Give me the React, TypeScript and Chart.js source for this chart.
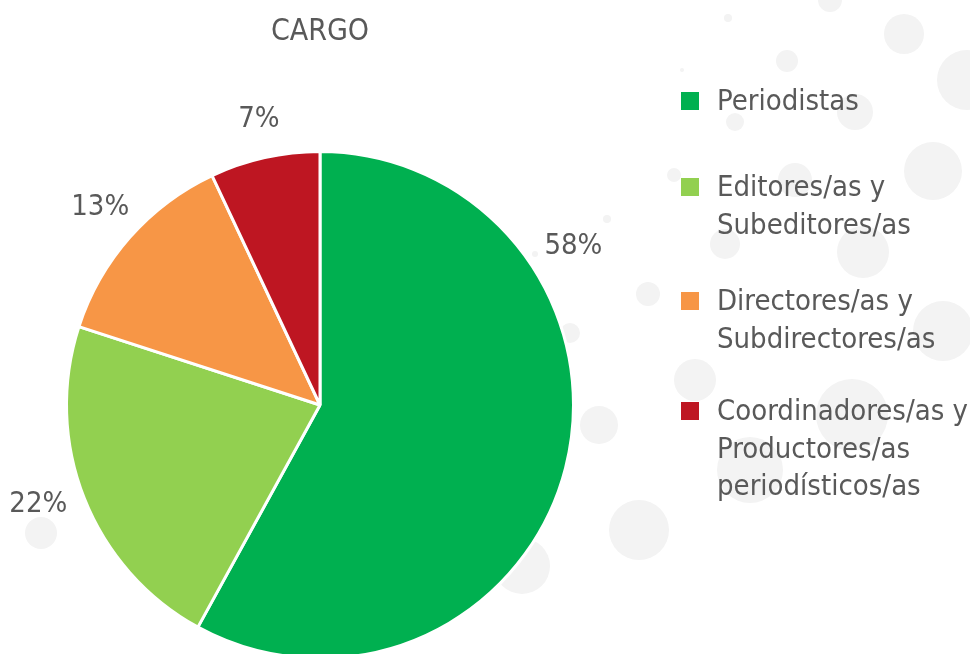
import React, { useEffect, useRef } from "react";
import { Chart, registerables } from "chart.js";

Chart.register(...registerables);

// ---- data ----
const title = "CARGO";
const categories = [
  "Periodistas",
  "Editores/as y\nSubeditores/as",
  "Directores/as y\nSubdirectores/as",
  "Coordinadores/as y\nProductores/as\nperiodísticos/as",
];
const values = [58, 22, 13, 7];
const colors = ["#00B050", "#92D050", "#F79646", "#BE1622"];

// decorative background bubbles [x, y, r]
const bubbles: number[][] = [
  [830, 0, 12], [728, 18, 4], [904, 34, 20], [787, 61, 11], [967, 80, 30],
  [682, 70, 2], [855, 112, 18], [735, 122, 9], [933, 171, 29], [674, 175, 7],
  [795, 180, 17], [607, 219, 4], [725, 244, 15], [863, 252, 26], [535, 254, 3],
  [648, 294, 12], [570, 333, 10], [943, 331, 30], [695, 380, 21], [852, 415, 36],
  [599, 425, 19], [750, 470, 33], [639, 530, 30], [522, 566, 28], [41, 533, 16],
];

const FONT = '"Liberation Sans Narrow", "DejaVu Sans Condensed", "Roboto", sans-serif';
const TEXT = "#595959";

const bubblePlugin = {
  id: "bubbles",
  beforeDraw(chart: any) {
    const ctx = chart.ctx;
    ctx.save();
    ctx.fillStyle = "#f3f3f3";
    for (const [x, y, r] of bubbles) {
      ctx.beginPath();
      ctx.arc(x, y, r, 0, Math.PI * 2);
      ctx.fill();
    }
    ctx.restore();
  },
};

const labelPlugin = {
  id: "pctLabels",
  afterDatasetsDraw(chart: any, _args: any, opts: any) {
    const ctx = chart.ctx;
    const meta = chart.getDatasetMeta(0);
    const offsets: number[] = opts.angleOffsets || [];
    const dists: number[] = opts.distances || [];
    ctx.save();
    ctx.font = `29px ${FONT}`;
    ctx.fillStyle = TEXT;
    ctx.textAlign = "center";
    ctx.textBaseline = "middle";
    meta.data.forEach((arc: any, i: number) => {
      const p = arc.getProps(["startAngle", "endAngle", "x", "y", "outerRadius"], true);
      const mid = (p.startAngle + p.endAngle) / 2 + ((offsets[i] || 0) * Math.PI) / 180;
      const r = p.outerRadius * (dists[i] || 1.16);
      const v = chart.data.datasets[0].data[i];
      ctx.fillText(`${v}%`, p.x + Math.cos(mid) * r, p.y + Math.sin(mid) * r);
    });
    ctx.restore();
  },
};

export default function App() {
  const ref = useRef<HTMLCanvasElement | null>(null);

  useEffect(() => {
    document.body.style.margin = "0";
    document.body.style.overflow = "hidden";
    if (!ref.current) return;
    const chart = new Chart(ref.current, {
      type: "pie",
      data: {
        labels: categories,
        datasets: [
          {
            data: values,
            backgroundColor: colors,
            borderColor: "#ffffff",
            borderWidth: 3,
          },
        ],
      },
      options: {
        responsive: false,
        animation: false,
        layout: { padding: { left: 65, right: 395, top: 150, bottom: 20 } },
        plugins: {
          legend: { display: false },
          tooltip: { enabled: false },
          title: { display: false },
          pctLabels: {
            angleOffsets: [-46.5, 2.2, 0.5, 0.5],
            distances: [1.18, 1.178, 1.165, 1.15],
          },
        } as any,
      },
      plugins: [bubblePlugin, labelPlugin],
    });
    return () => chart.destroy();
  }, []);

  const legendTops = [82, 168, 282, 392];

  return (
    <div
      style={{
        position: "absolute",
        left: 0,
        top: 0,
        width: 970,
        height: 654,
        overflow: "hidden",
        background: "#ffffff",
      }}
    >
      <canvas ref={ref} width={970} height={680} style={{ position: "absolute", left: 0, top: 0 }} />
      <div
        style={{
          position: "absolute",
          left: 220,
          width: 200,
          top: 15,
          textAlign: "center",
          fontFamily: FONT,
          fontSize: 30,
          lineHeight: "30px",
          color: TEXT,
        }}
      >
        {title}
      </div>
      {categories.map((c, i) => (
        <div key={c} style={{ position: "absolute", left: 681, top: legendTops[i], fontFamily: FONT }}>
          <div
            style={{
              position: "absolute",
              left: 0,
              top: 10,
              width: 18,
              height: 18,
              background: colors[i],
            }}
          />
          <div
            style={{
              position: "absolute",
              left: 36,
              top: 0,
              whiteSpace: "pre",
              fontSize: 29,
              lineHeight: "37.5px",
              color: TEXT,
            }}
          >
            {c}
          </div>
        </div>
      ))}
    </div>
  );
}
